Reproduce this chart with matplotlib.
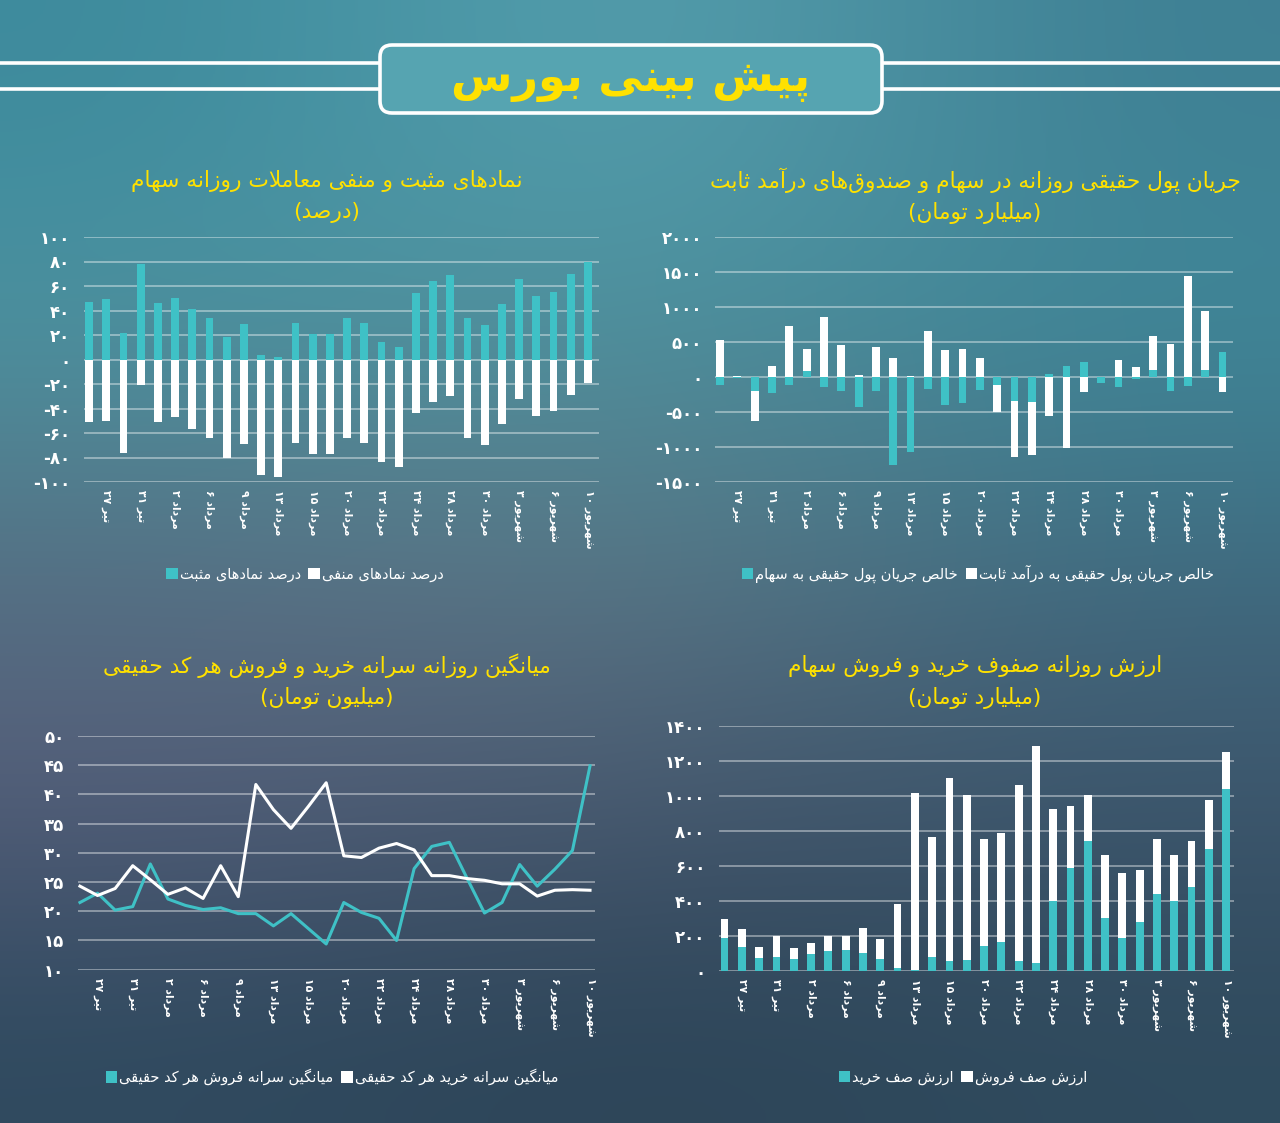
import re

import matplotlib
matplotlib.use("Agg")
import matplotlib.pyplot as plt
import numpy as np
from matplotlib.patches import FancyBboxPatch, Patch

W, H = 1280, 1123
CYAN = "#3fc1c6"
YELLOW = "#ffe100"

plt.rcParams["font.family"] = ["DejaVu Sans"]

# ---- data -------------------------------------------------------------
date_labels = ["۲۷ تیر", "۳۱ تیر", "۲ مرداد", "۶ مرداد", "۹ مرداد", "۱۳ مرداد",
               "۱۵ مرداد", "۲۰ مرداد", "۲۲ مرداد", "۲۴ مرداد", "۲۸ مرداد",
               "۳۰ مرداد", "۳ شهریور", "۶ شهریور", "۱۰ شهریور"]
n_days = 30
label_idx = list(range(1, n_days, 2))

pos_pct = [47, 49, 22, 78, 46, 50, 41, 34, 18, 29, 4, 2, 30, 21, 21,
           34, 30, 14, 10, 54, 64, 69, 34, 28, 45, 66, 52, 55, 70, 80]
neg_pct = [-51, -50, -76, -21, -51, -47, -57, -64, -80, -69, -94, -96, -68, -77, -77,
           -64, -68, -84, -88, -44, -35, -30, -64, -70, -53, -32, -46, -42, -29, -19]

flow_stock = [-110, -10, -205, -228, -120, 86, -143, -195, -433, -205, -1252, -1076, -171, -405, -376,
              -181, -110, -338, -362, 38, 157, 219, -86, -143, -29, 100, -205, -133, 100, 357]
flow_fixed = [524, 20, -428, 157, 733, 309, 857, 462, 29, 433, 276, 10, 652, 390, 405,
              267, -390, -810, -757, -562, -1014, -214, 0, 238, 138, 486, 467, 1438, 843, -219]

sell_per_code = [21.5, 23.1, 20.2, 20.8, 28.1, 22.1, 21.0, 20.3, 20.6, 19.6, 19.6, 17.5, 19.6, 17.0, 14.4,
                 21.5, 19.8, 18.8, 15.0, 27.3, 31.1, 31.8, 25.7, 19.7, 21.5, 28.0, 24.3, 27.2, 30.4, 44.9]
buy_per_code = [24.3, 22.7, 23.9, 27.8, 25.4, 22.9, 24.0, 22.2, 27.8, 22.5, 41.7, 37.4, 34.2, 38.0, 42.0,
                29.5, 29.2, 30.8, 31.6, 30.5, 26.1, 26.1, 25.6, 25.3, 24.7, 24.7, 22.6, 23.6, 23.7, 23.6]

buy_queue = [190, 137, 72, 82, 67, 95, 114, 120, 101, 67, 15, 6, 80, 55, 61,
             141, 164, 59, 48, 402, 587, 745, 303, 190, 280, 440, 400, 478, 695, 1042]
sell_queue = [105, 105, 67, 116, 66, 65, 84, 78, 147, 114, 370, 1009, 688, 1048, 945,
              611, 626, 1002, 1238, 524, 356, 259, 360, 368, 297, 312, 265, 263, 280, 208]

# ---- persian text shaping (matplotlib has no complex text layout) ------
FORMS = {  # isolated, final, initial, medial
    "ا": ("\uFE8D", "\uFE8E", None, None),
    "آ": ("\uFE81", "\uFE82", None, None),
    "ب": ("\uFE8F", "\uFE90", "\uFE91", "\uFE92"),
    "پ": ("\uFB56", "\uFB57", "\uFB58", "\uFB59"),
    "ت": ("\uFE95", "\uFE96", "\uFE97", "\uFE98"),
    "ث": ("\uFE99", "\uFE9A", "\uFE9B", "\uFE9C"),
    "ج": ("\uFE9D", "\uFE9E", "\uFE9F", "\uFEA0"),
    "چ": ("\uFB7A", "\uFB7B", "\uFB7C", "\uFB7D"),
    "ح": ("\uFEA1", "\uFEA2", "\uFEA3", "\uFEA4"),
    "خ": ("\uFEA5", "\uFEA6", "\uFEA7", "\uFEA8"),
    "د": ("\uFEA9", "\uFEAA", None, None),
    "ذ": ("\uFEAB", "\uFEAC", None, None),
    "ر": ("\uFEAD", "\uFEAE", None, None),
    "ز": ("\uFEAF", "\uFEB0", None, None),
    "ژ": ("\uFB8A", "\uFB8B", None, None),
    "س": ("\uFEB1", "\uFEB2", "\uFEB3", "\uFEB4"),
    "ش": ("\uFEB5", "\uFEB6", "\uFEB7", "\uFEB8"),
    "ص": ("\uFEB9", "\uFEBA", "\uFEBB", "\uFEBC"),
    "ض": ("\uFEBD", "\uFEBE", "\uFEBF", "\uFEC0"),
    "ط": ("\uFEC1", "\uFEC2", "\uFEC3", "\uFEC4"),
    "ظ": ("\uFEC5", "\uFEC6", "\uFEC7", "\uFEC8"),
    "ع": ("\uFEC9", "\uFECA", "\uFECB", "\uFECC"),
    "غ": ("\uFECD", "\uFECE", "\uFECF", "\uFED0"),
    "ف": ("\uFED1", "\uFED2", "\uFED3", "\uFED4"),
    "ق": ("\uFED5", "\uFED6", "\uFED7", "\uFED8"),
    "ک": ("\uFB8E", "\uFB8F", "\uFB90", "\uFB91"),
    "گ": ("\uFB92", "\uFB93", "\uFB94", "\uFB95"),
    "ل": ("\uFEDD", "\uFEDE", "\uFEDF", "\uFEE0"),
    "م": ("\uFEE1", "\uFEE2", "\uFEE3", "\uFEE4"),
    "ن": ("\uFEE5", "\uFEE6", "\uFEE7", "\uFEE8"),
    "ه": ("\uFEE9", "\uFEEA", "\uFEEB", "\uFEEC"),
    "و": ("\uFEED", "\uFEEE", None, None),
    "ی": ("\uFBFC", "\uFBFD", "\uFBFE", "\uFBFF"),
}


def shape(s):
    out = []
    i = 0
    while i < len(s):
        c = s[i]
        if c not in FORMS:
            out.append(c)
            i += 1
            continue
        prev = s[i - 1] if i > 0 else None
        joins_prev = prev in FORMS and FORMS[prev][2] is not None
        if c == "ل" and i + 1 < len(s) and s[i + 1] in ("ا", "آ"):
            lig = ("\uFEFB", "\uFEFC") if s[i + 1] == "ا" else ("\uFEF5", "\uFEF6")
            out.append(lig[1] if joins_prev else lig[0])
            i += 2
            continue
        nxt = s[i + 1] if i + 1 < len(s) else None
        joins_next = FORMS[c][2] is not None and nxt in FORMS
        iso, fin, ini, med = FORMS[c]
        if joins_prev and joins_next:
            out.append(med)
        elif joins_prev:
            out.append(fin)
        elif joins_next:
            out.append(ini)
        else:
            out.append(iso)
        i += 1
    return "".join(out).replace("\u200c", "")


def rtl(s):
    t = shape(s)[::-1]
    t = re.sub(r"[0-9۰-۹]+", lambda m: m.group(0)[::-1], t)
    return t.translate(str.maketrans("()", ")("))


def tick_text(s):
    num, word = s.split(" ", 1)
    return num + " " + shape(word)[::-1]


def fa_num(v):
    return str(v).translate(str.maketrans("0123456789", "۰۱۲۳۴۵۶۷۸۹"))


def px(x, y):
    return x / W, 1 - y / H


# ---- figure + background ---------------------------------------------
fig = plt.figure(figsize=(W / 100, H / 100), dpi=100)
bg = fig.add_axes([0, 0, 1, 1])
bg_colors = np.array([
    [[61, 138, 156], [90, 165, 178], [62, 127, 147]],
    [[77, 148, 161], [79, 143, 155], [63, 136, 153]],
    [[84, 111, 130], [94, 122, 135], [63, 107, 128]],
    [[88, 95, 124], [74, 90, 112], [62, 86, 109]],
    [[47, 74, 95], [44, 67, 86], [47, 75, 94]],
]) / 255.0
bg.imshow(bg_colors, extent=(0, W, H, 0), aspect="auto", interpolation="bicubic")
bg.set_xlim(0, W)
bg.set_ylim(H, 0)
bg.axis("off")

# header
for yy in (63, 89):
    bg.plot([0, 380], [yy, yy], color="white", lw=2.6, solid_capstyle="butt")
    bg.plot([882, W], [yy, yy], color="white", lw=2.6, solid_capstyle="butt")
bg.add_patch(FancyBboxPatch((380, 45), 502, 68, boxstyle="round,pad=0,rounding_size=12",
                            fc="#56a4b1", ec="white", lw=2.6))
bg.text(631, 80, rtl("پیش بینی بورس"), ha="center", va="center", color=YELLOW,
        fontsize=32, fontweight="bold")


def new_axes(x0, x1, y_top, y_bot):
    return fig.add_axes([x0 / W, 1 - y_bot / H, (x1 - x0) / W, (y_bot - y_top) / H])


def style(ax, yticks, ylim, xlim, ypad):
    ax.set_facecolor("none")
    for sp in ax.spines.values():
        sp.set_visible(False)
    ax.set_xlim(*xlim)
    ax.set_ylim(*ylim)
    ax.set_yticks(yticks, [fa_num(v) for v in yticks], fontweight="bold", fontsize=12, color="white")
    ax.set_xticks(label_idx, [tick_text(s) for s in date_labels], rotation=-90,
                  fontsize=7.8, color="white", fontweight="bold")
    ax.tick_params(axis="y", length=0, pad=ypad)
    ax.tick_params(axis="x", length=0, pad=6)
    ax.grid(axis="y", color="white", alpha=0.5, lw=1.1)
    ax.set_axisbelow(True)


def titles(x, y, line1, line2):
    fig.text(*px(x, y), rtl(line1), ha="center", va="center", color=YELLOW, fontsize=15.7)
    fig.text(*px(x, y + 32), rtl(line2), ha="center", va="center", color=YELLOW, fontsize=15.7)


def legend(x, y, items):
    handles = [Patch(fc=c, ec="none") for c, _ in items]
    labels = [rtl(t) for _, t in items]
    fig.legend(handles, labels, loc="center", bbox_to_anchor=px(x, y), ncol=2, frameon=False,
               handlelength=0.8, handleheight=0.8, handletextpad=0.15, columnspacing=0.5,
               fontsize=10.5, labelcolor="white")


x = np.arange(n_days)

# ---- top-left: positive / negative symbols ---------------------------
ax1 = new_axes(84, 598.6, 237, 482)
ax1.bar(x, pos_pct, width=0.45, color=CYAN)
ax1.bar(x, neg_pct, width=0.45, color="white")
style(ax1, list(range(100, -101, -20)), (-100, 100), (-0.3, 29.62), 10)
titles(327, 181, "نمادهای مثبت و منفی معاملات روزانه سهام", "(درصد)")
legend(305, 574, [(CYAN, "درصد نمادهای مثبت"), ("white", "درصد نمادهای منفی")])

# ---- top-right: real money flow ---------------------------------------
ax2 = new_axes(714.8, 1232.5, 237, 482)
fs = np.array(flow_stock)
ff = np.array(flow_fixed)
ff_bottom = np.where(np.sign(ff) == np.sign(fs), fs, 0)
ax2.bar(x, fs, width=0.45, color=CYAN)
ax2.bar(x, ff, bottom=ff_bottom, width=0.45, color="white")
style(ax2, list(range(2000, -1501, -500)), (-1500, 2000), (-0.3, 29.58), 9)
titles(975, 181, "جریان پول حقیقی روزانه در سهام و صندوق‌های درآمد ثابت", "(میلیارد تومان)")
legend(978, 574, [(CYAN, "خالص جریان پول حقیقی به سهام"),
                  ("white", "خالص جریان پول حقیقی به درآمد ثابت")])

# ---- bottom-left: per-code buy / sell ---------------------------------
ax3 = new_axes(78.2, 595.3, 736, 969.7)
ax3.plot(x, sell_per_code, color=CYAN, lw=2.2)
ax3.plot(x, buy_per_code, color="white", lw=2.2)
style(ax3, list(range(50, 9, -5)), (10, 50), (-0.1, 29.3), 10)
titles(327, 666, "میانگین روزانه سرانه خرید و فروش هر کد حقیقی", "(میلیون تومان)")
legend(332, 1077, [(CYAN, "میانگین سرانه فروش هر کد حقیقی"),
                   ("white", "میانگین سرانه خرید هر کد حقیقی")])

# ---- bottom-right: queue values ----------------------------------------
ax4 = new_axes(719.4, 1233.6, 726, 971)
ax4.bar(x, buy_queue, width=0.45, color=CYAN)
ax4.bar(x, sell_queue, bottom=buy_queue, width=0.45, color="white")
style(ax4, list(range(1400, -1, -200)), (0, 1400), (-0.3, 29.43), 10)
titles(975, 666, "ارزش روزانه صفوف خرید و فروش سهام", "(میلیارد تومان)")
legend(963, 1077, [(CYAN, "ارزش صف خرید"), ("white", "ارزش صف فروش")])

fig.savefig("out.png", dpi=100)
